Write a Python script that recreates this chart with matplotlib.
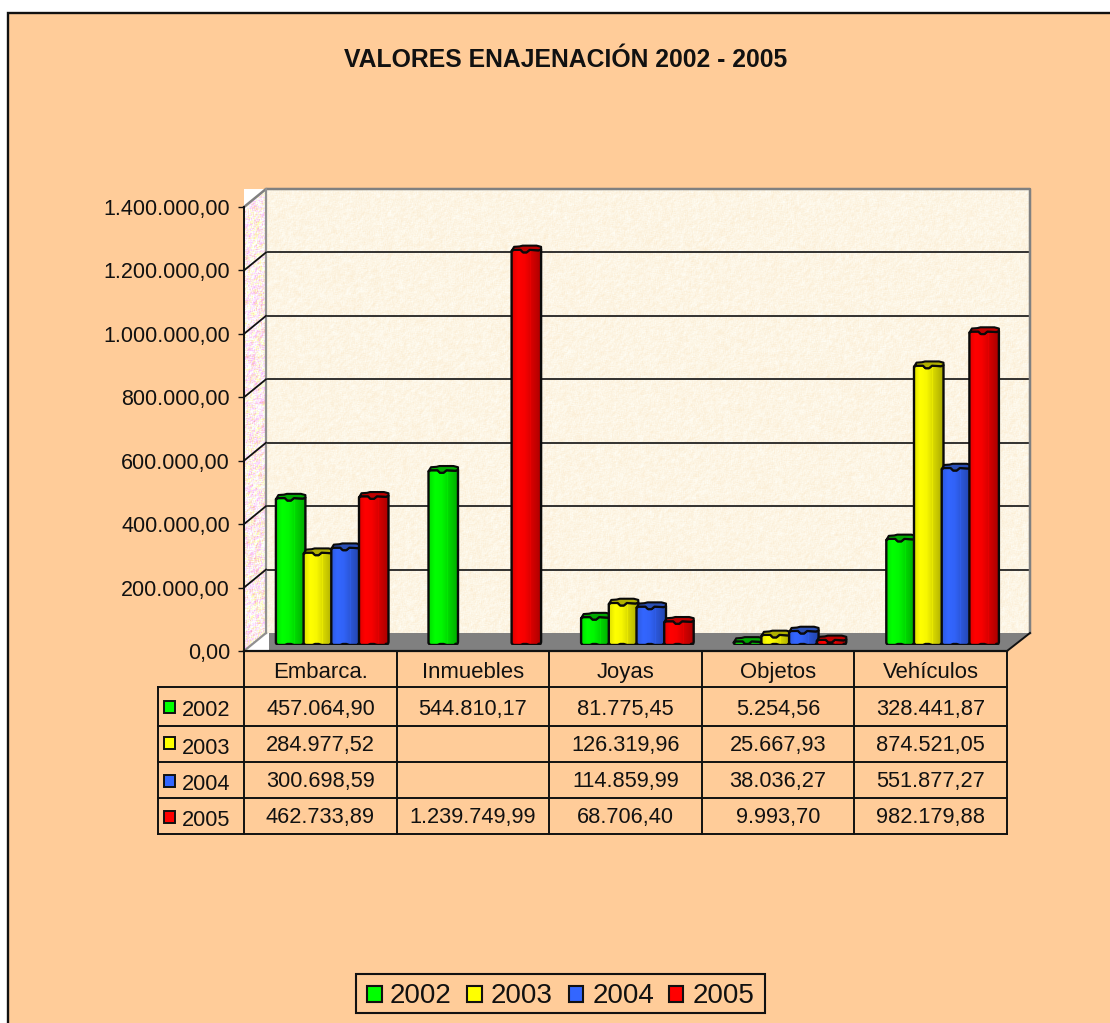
import numpy as np
import matplotlib
matplotlib.use("Agg")
import matplotlib.pyplot as plt
from matplotlib.colors import LinearSegmentedColormap, to_rgb
from matplotlib.patches import Polygon, Rectangle
from matplotlib.ticker import FuncFormatter

plt.rcParams['font.family'] = ['Liberation Sans', 'DejaVu Sans']

TITLE = "VALORES ENAJENACIÓN 2002 - 2005"
categories = ["Embarca.", "Inmuebles", "Joyas", "Objetos", "Vehículos"]
years = ["2002", "2003", "2004", "2005"]
v2002 = [457064.90, 544810.17, 81775.45, 5254.56, 328441.87]
v2003 = [284977.52, np.nan, 126319.96, 25667.93, 874521.05]
v2004 = [300698.59, np.nan, 114859.99, 38036.27, 551877.27]
v2005 = [462733.89, 1239749.99, 68706.40, 9993.70, 982179.88]
series = [v2002, v2003, v2004, v2005]
yticks = [0, 200000, 400000, 600000, 800000, 1000000, 1200000, 1400000]
colors = ["#00FF00", "#FFFF00", "#3366FF", "#FF0000"]
caps = ["#00A800", "#B0B000", "#2A4FB5", "#BE0000"]

W, H = 1110, 1023
BG = "#FFCC99"


def es(v, pos=None):
    s = f"{v:,.2f}"
    return s.replace(",", "#").replace(".", ",").replace("#", ".")


def box(x0, y_top, x1, y_bot):
    return [x0 / W, 1 - y_bot / H, (x1 - x0) / W, (y_bot - y_top) / H]


def noise(h, w, seed):
    yy, xx = np.mgrid[0:h, 0:w]
    n = np.sin(xx * 12.9898 + yy * 78.233 + seed) * 43758.5453
    n = n - np.floor(n)
    k = 3
    out = n.copy()
    for s in range(1, k):
        out += np.roll(n, s, 0) + np.roll(n, s, 1)
    return out / (1 + 2 * (k - 1))


fig = plt.figure(figsize=(W / 100, H / 100), dpi=100, facecolor="white")

# pixel canvas for the frame, walls and table grid
bgx = fig.add_axes([0, 0, 1, 1], zorder=0)
bgx.set_xlim(0, W)
bgx.set_ylim(H, 0)
bgx.axis("off")
bgx.add_patch(Rectangle((8, 13), W - 8, H - 13, fc=BG, ec="none"))
bgx.plot([8, 8, W], [H, 13, 13], color="#111111", lw=1.7, solid_joinstyle="miter")

# walls
bw_h, bw_w = 444, 764
n = noise(bw_h, bw_w, 1.0)
base = np.array(to_rgb("#FDF5E4"))
img = base[None, None, :] + (n[..., None] - 0.5) * np.array([0.02, 0.08, 0.16])
bgx.imshow(np.clip(img, 0, 1), extent=(266, 1030, 633, 189), aspect="auto", zorder=1, interpolation="nearest")

n2 = noise(462, 23, 3.0)
n3 = noise(462, 23, 7.0)
lw_img = np.ones((462, 23, 3))
lw_img[..., 0] = 0.98 + 0.02 * n2
lw_img[..., 1] = np.clip(0.62 + 0.62 * n2, 0, 1)
lw_img[..., 2] = np.clip(0.55 + 0.75 * n3, 0, 1)
im = bgx.imshow(lw_img, extent=(244, 267, 651, 189), aspect="auto", zorder=1, interpolation="nearest")
im.set_clip_path(Polygon([(244, 207), (266, 189), (266, 633), (244, 651)], transform=bgx.transData))

bgx.add_patch(Polygon([(244, 207), (244, 189), (266, 189)], fc="white", ec="none", zorder=1))
bgx.add_patch(Polygon([(244, 651), (266, 633), (270, 633), (270, 651)], fc="white", ec="none", zorder=1))
bgx.add_patch(Polygon([(269, 651), (269, 633), (1030, 633), (1007, 651)], fc="#808080", ec="none", zorder=2))
bgx.plot([244, 266, 1030, 1030], [207, 189, 189, 633], color="#808080", lw=1.8, zorder=3)
bgx.plot([266, 266], [189, 633], color="#909090", lw=1.6, zorder=3)
bgx.plot([244, 266], [651, 633], color="#909090", lw=1.6, zorder=3)

# gridlines and diagonals follow the value scale of the front plane
for t in yticks[1:]:
    fy = 651 - t * 444 / 1400000
    by = fy - 18
    if t < yticks[-1]:
        bgx.plot([266, 1030], [by, by], color="#222222", lw=1.3, zorder=2)
        bgx.plot([244, 266], [fy, by], color="#111111", lw=1.3, zorder=3)
bgx.plot([1007, 1030], [651, 633], color="#111111", lw=1.4, zorder=3)

# table grid
col_x = [244, 397, 549, 702, 854, 1007]
row_y = [651, 687, 725.5, 761.5, 797.5, 833.5]
for i, x in enumerate(col_x):
    bgx.plot([x, x], [651, 833.5], color="#111111", lw=1.4, zorder=3)
bgx.plot([158, 158], [687, 833.5], color="#111111", lw=1.4, zorder=3)
for y in row_y[1:]:
    bgx.plot([158, 1007], [y, y], color="#111111", lw=1.4, zorder=3)

FS = 15.7
text_y = [709, 745.5, 782, 818]
year_y = [711, 748.5, 785, 821]
swatch_y = [701, 737, 775, 811]
for j, yr in enumerate(years):
    bgx.add_patch(Rectangle((163.5, swatch_y[j]), 11, 12, fc=colors[j], ec="#111111", lw=1.4, zorder=4))
    bgx.text(182, year_y[j], yr, fontsize=FS, va="center", ha="left", color="#111111", zorder=4)
    for i in range(5):
        if not np.isnan(series[j][i]):
            bgx.text((col_x[i] + col_x[i + 1]) / 2, text_y[j], es(series[j][i]), fontsize=FS,
                     va="center", ha="center", color="#111111", zorder=4)

bgx.text(566, 60, TITLE, fontsize=17.8, fontweight="bold", ha="center", va="center", color="#111111", zorder=4)

# legend
bgx.add_patch(Rectangle((356, 973.5), 409, 39.5, fc="none", ec="#111111", lw=1.5, zorder=4))
leg_sw = [367, 467, 568.5, 668.5]
leg_tx = [390, 491, 593, 693]
for j, yr in enumerate(years):
    bgx.add_patch(Rectangle((leg_sw[j], 985.5), 14.5, 16, fc=colors[j], ec="#111111", lw=1.5, zorder=4))
    bgx.text(leg_tx[j], 996, yr, fontsize=20, ha="left", va="center", color="#111111", zorder=4)

# front plane axes: value ticks and category labels
ax = fig.add_axes(box(244, 207, 1007, 651), zorder=1)
ax.patch.set_alpha(0)
ax.set_xlim(0, 5)
ax.set_ylim(0, 1400000)
ax.set_yticks(yticks)
ax.yaxis.set_major_formatter(FuncFormatter(es))
ax.tick_params(axis="y", length=4.5, width=1.0, pad=5.5, labelsize=15.5, labelcolor="#111111", color="#111111")
ax.set_xticks(np.arange(5) + 0.5)
ax.set_xticklabels(categories)
ax.tick_params(axis="x", length=0, pad=8, labelsize=15.9, labelcolor="#111111")
for s in ("top", "right"):
    ax.spines[s].set_visible(False)
ax.spines["left"].set_linewidth(1.4)
ax.spines["bottom"].set_linewidth(1.6)
ax.spines["left"].set_color("#111111")
ax.spines["bottom"].set_color("#111111")

# bars sit a little inside the box: baseline and centres shifted
bx = fig.add_axes(box(255, 201, 1018, 645), zorder=2)
bx.patch.set_alpha(0)
bx.axis("off")
bx.set_xlim(0, 5)
bx.set_ylim(0, 1400000)
PXX = 5 / 763
PXY = 1400000 / 444
bw = 27.7 * PXX


def grad_cmap(c):
    c = np.array(to_rgb(c))
    return LinearSegmentedColormap.from_list(
        "g", [(0, c * 0.88), (0.2, c), (0.42, c * 0.97), (0.7, c * 0.82), (1, c * 0.66)])


for j, vals in enumerate(series):
    cm = grad_cmap(colors[j])
    rects = bx.bar(np.arange(5) + 0.5 + (j - 1.5) * bw, vals, width=bw, color=colors[j], linewidth=0, zorder=2 + j)
    for i, r in enumerate(rects):
        if np.isnan(vals[i]):
            r.set_visible(False)
            continue
        x0, v = r.get_x(), r.get_height()
        T = v / PXY + 2.0
        D = 29.5
        front = [(D, T + 0.5), (27, T - 0.5), (18, T), (15, T - 2.5), (11.5, T - 2.5), (9, T), (2, T), (0, T - 1.2)]
        body = [(0, 2), (1.5, 0), (9, 0), (11.5, 1), (15, 1), (18, 0), (26, 0), (27, 1.2), (D - 0.5, 1.2), (D, 3)] + front
        cap = [(0, T - 1.2), (2.5, T + 3.0), (8, T + 3.4), (11, T + 4.2), (25, T + 4.2), (D, T + 3.0)] + front[:-1]
        to_data = lambda pts: [(x0 + px * PXX, py * PXY) for px, py in pts]
        z = 2 + j + i * 0.01
        poly = Polygon(to_data(body), fc="none", ec="#0A0A0A", lw=1.7, joinstyle="round", zorder=z + 0.003)
        bx.add_patch(poly)
        im = bx.imshow(np.linspace(0, 1, 60)[None, :], extent=(x0, x0 + D * PXX, 0, (T + 1) * PXY),
                       cmap=cm, vmin=0, vmax=1, aspect="auto", zorder=z + 0.001, interpolation="bilinear")
        im.set_clip_path(Polygon(to_data(body), transform=bx.transData))
        r.set_clip_path(Polygon(to_data(body), transform=bx.transData))
        r.set_zorder(z)
        bx.plot([x0 + 18.5 * PXX] * 2, [1.5 * PXY, (T - 1) * PXY], color=colors[j], alpha=0.35, lw=0.8, zorder=z + 0.002)
        bx.add_patch(Polygon(to_data(cap), fc=caps[j], ec="#0A0A0A", lw=1.5, joinstyle="round", zorder=z + 0.004))
bx.set_xlim(0, 5)
bx.set_ylim(0, 1400000)

fig.savefig("out.png", dpi=100, facecolor="white")
